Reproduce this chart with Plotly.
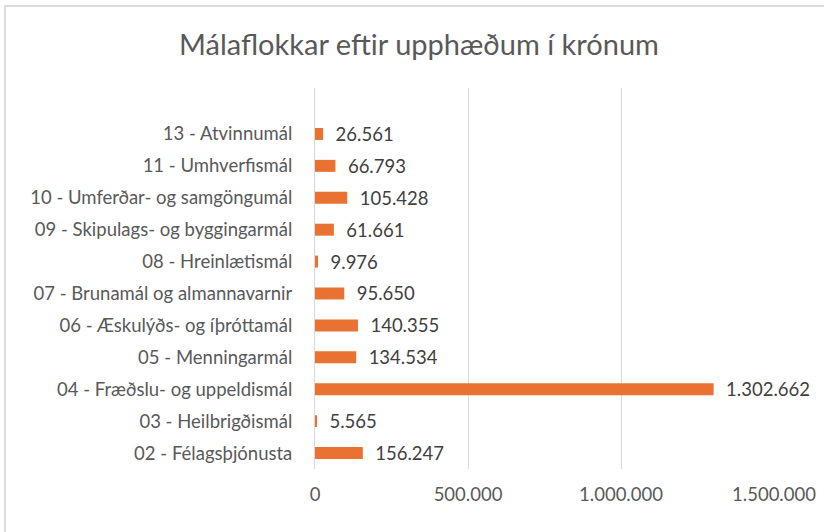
import plotly.graph_objects as go

categories = [
    "02 - Félagsþjónusta",
    "03 - Heilbrigðismál",
    "04 - Fræðslu- og uppeldismál",
    "05 - Menningarmál",
    "06 - Æskulýðs- og íþróttamál",
    "07 - Brunamál og almannavarnir",
    "08 - Hreinlætismál",
    "09 - Skipulags- og byggingarmál",
    "10 - Umferðar- og samgöngumál",
    "11 - Umhverfismál",
    "13 - Atvinnumál",
]
values = [156247, 5565, 1302662, 134534, 140355, 95650, 9976, 61661, 105428, 66793, 26561]
x_ticks = [0, 500000, 1000000, 1500000]
title = "Málaflokkar eftir upphæðum í krónum"

FONT = "Lato"
W, H = 824, 532
ml, mr, mt, mb = 315, 50, 88, 63

fig = go.Figure(go.Bar(
    x=values, y=categories, orientation="h",
    marker=dict(color="#E97132", line=dict(width=0)),
    width=0.375,
    texttemplate="  %{x:,}", textposition="outside", cliponaxis=False,
    constraintext="none",
    textfont=dict(family=FONT, size=18.5, color="#404040"),
))

pw = W - ml - mr
ph = H - mt - mb
fig.add_shape(type="rect", xref="paper", yref="paper",
              x0=(5 - ml) / pw, x1=(840 - ml) / pw,
              y0=(H - mb - 545) / ph, y1=(H - mb - 6) / ph,
              line=dict(color="#DCDCDC", width=2), layer="below")

fig.update_layout(
    width=W, height=H,
    margin=dict(l=ml, r=mr, t=mt, b=mb, autoexpand=False),
    paper_bgcolor="white", plot_bgcolor="white",
    separators=",.",
    showlegend=False,
    title=dict(text=title, x=419 / W, xref="container", xanchor="center",
               y=1 - 45 / H, yref="container", yanchor="middle",
               font=dict(family=FONT, size=29, color="#595959")),
    xaxis=dict(range=[0, 1500000], tickvals=x_ticks, tickformat=",",
               showgrid=True, gridcolor="#D9D9D9", gridwidth=1,
               zeroline=False, showline=False, ticks="",
               tickfont=dict(family=FONT, size=18.5, color="#595959"),
               ticklabelstandoff=12),
    yaxis=dict(range=[-0.5, 11.44], showgrid=False, showline=True, linecolor="#D9D9D9", linewidth=1,
               ticks="", tickfont=dict(family=FONT, size=18.5, color="#595959"),
               ticklabelstandoff=18),
)

fig.write_html("out.html", config={"displayModeBar": False},
               post_script="document.body.style.margin='0';document.body.style.overflow='hidden';")
